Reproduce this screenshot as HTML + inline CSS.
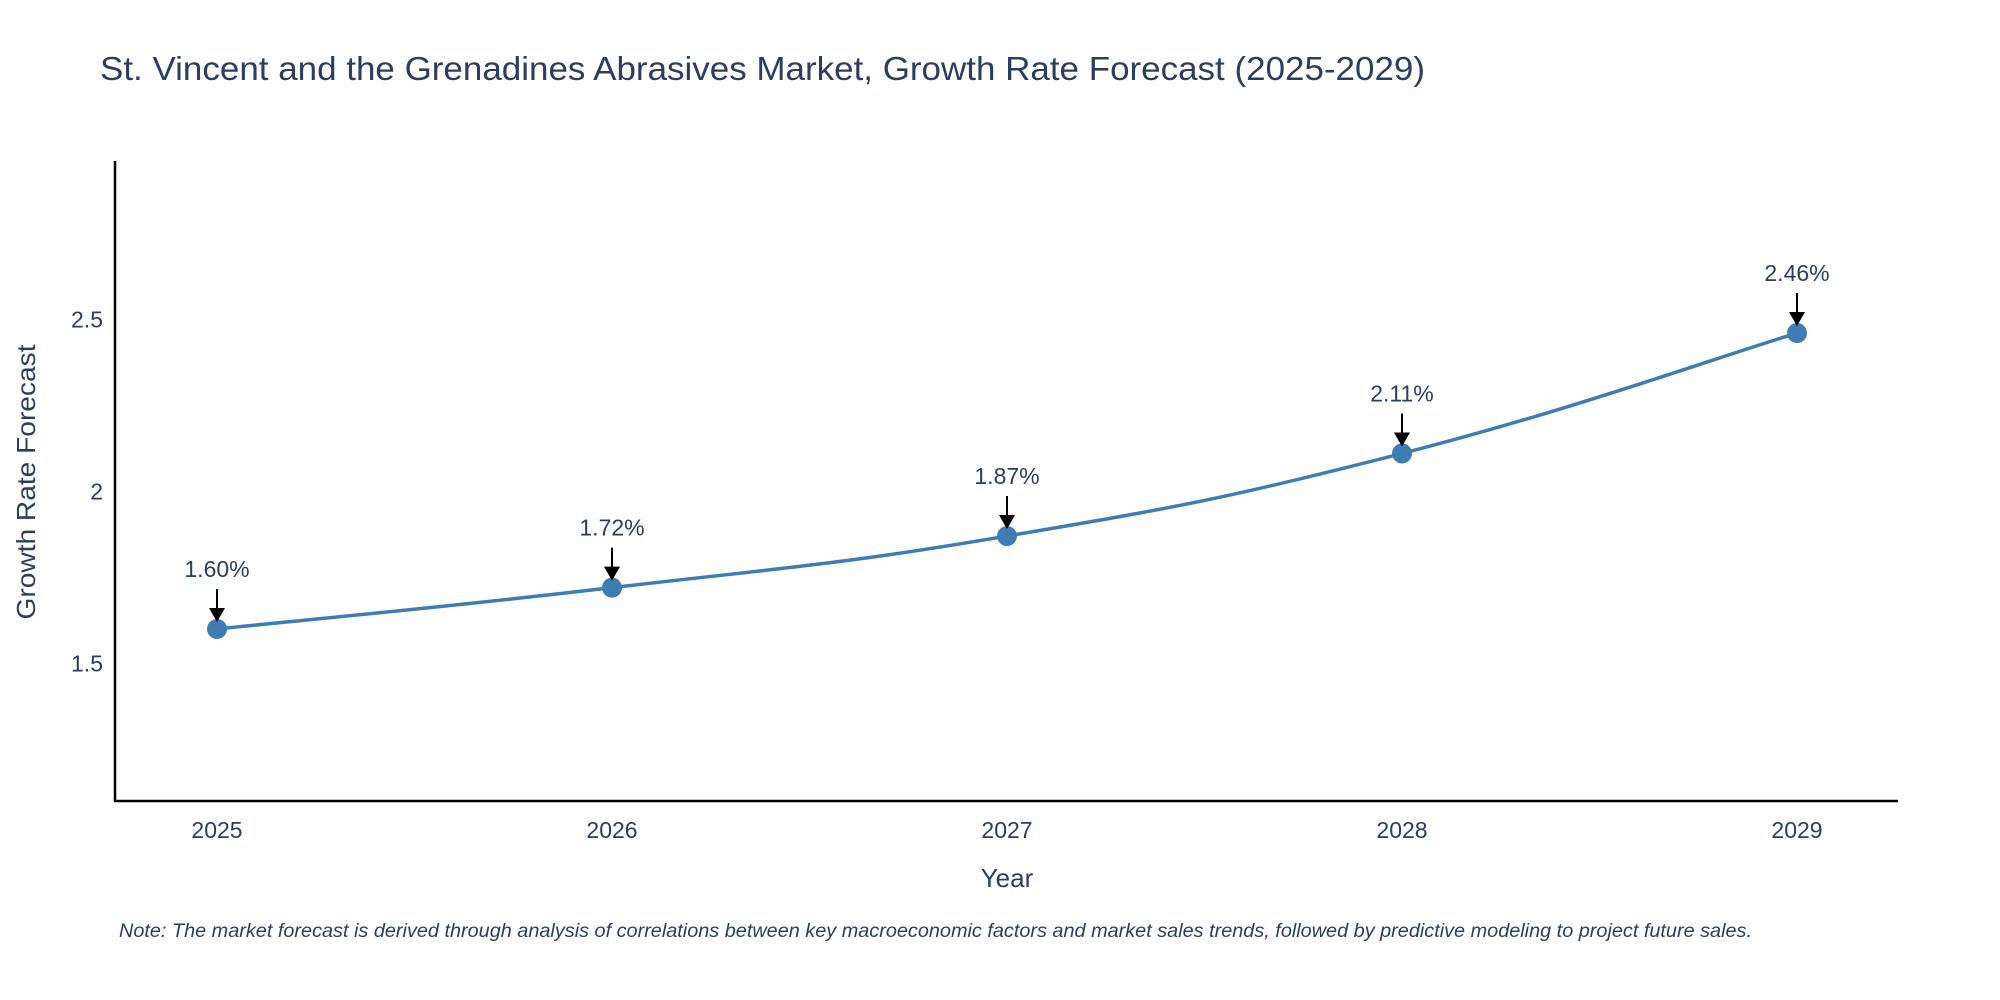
<!DOCTYPE html>
<html><head><meta charset="utf-8"><style>
html,body{margin:0;padding:0;background:#fff;}
svg{display:block;font-family:"Liberation Sans",sans-serif;}
</style></head><body>
<svg id="chart" width="2000" height="1000" viewBox="0 0 2000 1000" xmlns="http://www.w3.org/2000/svg">
<text x="100" y="80" font-size="33" fill="#2a3f5f" textLength="1325" lengthAdjust="spacingAndGlyphs">St. Vincent and the Grenadines Abrasives Market, Growth Rate Forecast (2025-2029)</text>
<g id="axes"></g>
<g id="series"></g>
<text x="1007" y="887" font-size="26" fill="#2a3f5f" text-anchor="middle">Year</text>
<text transform="translate(35,482) rotate(-90)" font-size="26" fill="#2a3f5f" text-anchor="middle" textLength="275" lengthAdjust="spacingAndGlyphs">Growth Rate Forecast</text>
<text x="119" y="937" font-size="19" font-style="italic" fill="#2a3f5f" textLength="1633" lengthAdjust="spacingAndGlyphs">Note: The market forecast is derived through analysis of correlations between key macroeconomic factors and market sales trends, followed by predictive modeling to project future sales.</text>
</svg>
<script>
const years = ["2025","2026","2027","2028","2029"];
const values = [1.60, 1.72, 1.87, 2.11, 2.46];
const yTicks = [1.5, 2, 2.5];
const yTickLabels = ["1.5","2","2.5"];

const NS="http://www.w3.org/2000/svg";
const plotL=115, plotR=1898, plotT=161, plotB=801;
const yMin=1.1, yMax=2.96;
function xs(i){return 217+i*(1797-217)/(years.length-1);}
function ys(v){return plotB-(v-yMin)/(yMax-yMin)*(plotB-plotT);}
function mk(tag,attrs,parent){const e=document.createElementNS(NS,tag);for(const k in attrs)e.setAttribute(k,attrs[k]);parent.appendChild(e);return e;}
const axes=document.getElementById('axes'), series=document.getElementById('series');

const yAxis=mk('line',{x1:plotL,y1:plotT,x2:plotL,y2:plotB+1,stroke:'#000','stroke-width':2.5},axes);


const xAxis=mk('line',{x1:plotL-1,y1:plotB,x2:plotR,y2:plotB,stroke:'#000','stroke-width':2.5},axes);



yTicks.forEach((t,i)=>{
  const tx=mk('text',{x:plotL-12,y:ys(t)+8,'font-size':23,fill:'#2a3f5f','text-anchor':'end'},axes);
  tx.textContent=yTickLabels[i];
  
  
});
years.forEach((y,i)=>{
  const tx=mk('text',{x:xs(i),y:838,'font-size':23,fill:'#2a3f5f','text-anchor':'middle'},axes);
  tx.textContent=y;
  
  
});

const pts=values.map((v,i)=>[xs(i),ys(v)]);
let d=`M${pts[0][0]},${pts[0][1]}`;
for(let i=0;i<pts.length-1;i++){
  const p0=pts[i-1]||pts[i],p1=pts[i],p2=pts[i+1],p3=pts[i+2]||pts[i+1];
  const s=0.33;
  const c1=[p1[0]+(p2[0]-p0[0])*s/1.5,p1[1]+(p2[1]-p0[1])*s/1.5];
  const c2=[p2[0]-(p3[0]-p1[0])*s/1.5,p2[1]-(p3[1]-p1[1])*s/1.5];
  d+=` C${c1[0]},${c1[1]} ${c2[0]},${c2[1]} ${p2[0]},${p2[1]}`;
}
const line=mk('path',{d:d,fill:'none',stroke:'#3d7db3','stroke-width':3.5},series);



pts.forEach((p,i)=>{
  const c=mk('circle',{cx:p[0],cy:p[1],r:10,fill:'#3d7db3'},series);
  
  
  const a=mk('line',{x1:p[0],y1:p[1]-40,x2:p[0],y2:p[1]-20,stroke:'#000','stroke-width':2},series);
  
  
  const h=mk('polygon',{points:`${p[0]-8},${p[1]-21} ${p[0]+8},${p[1]-21} ${p[0]},${p[1]-7}`,fill:'#000'},series);
  
  
  const t=mk('text',{x:p[0],y:p[1]-52,'font-size':23,fill:'#2a3f5f','text-anchor':'middle'},series);
  t.textContent=values[i].toFixed(2)+'%';
  
  
});
</script>
</body></html>
